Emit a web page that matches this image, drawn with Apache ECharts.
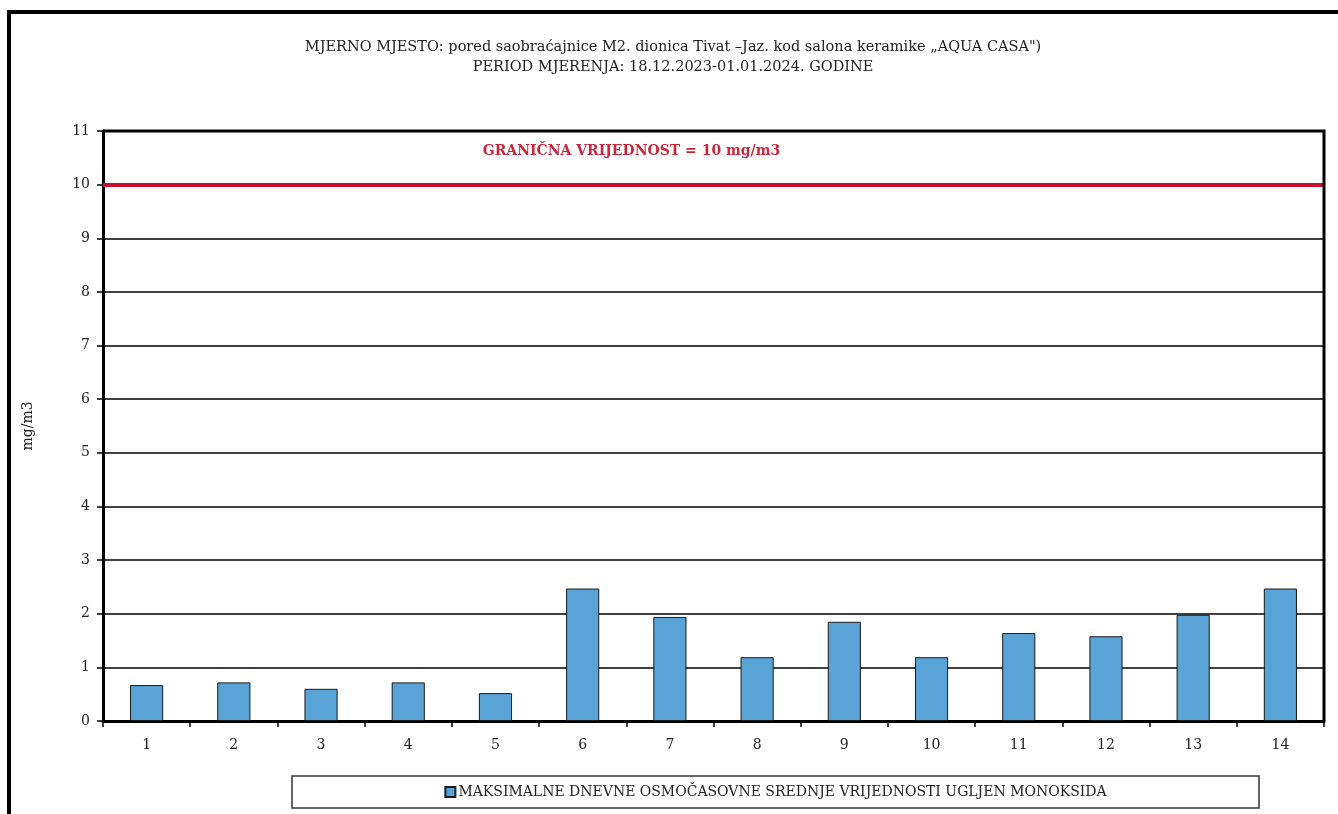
<!DOCTYPE html>
<html>
<head>
<meta charset="utf-8">
<script src="https://cdn.jsdelivr.net/npm/echarts@6/dist/echarts.min.js"></script>
<style>
  html, body { margin: 0; padding: 0; background: #ffffff; }
  #chart { width: 1338px; height: 814px; }
</style>
</head>
<body>
<div id="chart"></div>
<script>
// Days of the measurement period
const categories = ['1','2','3','4','5','6','7','8','9','10','11','12','13','14'];
// Maximum daily eight-hour mean CO concentrations, mg/m3
const coValues = [0.67, 0.72, 0.60, 0.72, 0.52, 2.47, 1.94, 1.19, 1.85, 1.19, 1.64, 1.58, 1.98, 2.47];
// Limit value, mg/m3
const limitValue = 10;
const yTicks = { min: 0, max: 11, interval: 1 };

const seriesName = 'MAKSIMALNE DNEVNE OSMOČASOVNE SREDNJE VRIJEDNOSTI UGLJEN MONOKSIDA';
const titleText = 'MJERNO MJESTO: pored saobraćajnice M2. dionica Tivat –Jaz. kod salona keramike „AQUA CASA")';
const subText = 'PERIOD MJERENJA: 18.12.2023-01.01.2024. GODINE';
const limitLabel = 'GRANIČNA VRIJEDNOST = 10 mg/m3';

const serif = '"DejaVu Serif", "Liberation Serif", serif';
const chart = echarts.init(document.getElementById('chart'), null, { renderer: 'canvas' });

// legend box spans this horizontal range; the legend content is centred inside it
const legendBox = { x: 292, y: 776, w: 967, h: 34 };
const legendFont = 14;
const legendTextW = echarts.format.getTextRect
  ? echarts.format.getTextRect(seriesName, legendFont + 'px ' + serif).width
  : 690;
const legendContentW = legendTextW + 10 + 4;
const legendPadX = Math.max(0, (legendBox.w - legendContentW) / 2);

chart.setOption({
  animation: false,
  backgroundColor: '#ffffff',
  title: {
    text: titleText,
    subtext: subText,
    left: 668,
    textAlign: 'center',
    top: 35,
    itemGap: 5,
    textStyle: { fontFamily: serif, fontSize: 14.5, fontWeight: 'normal', color: '#222' },
    subtextStyle: { fontFamily: serif, fontSize: 14.5, color: '#222' }
  },
  legend: {
    data: [seriesName],
    left: legendBox.x,
    top: legendBox.y,
    padding: [9, legendPadX, 9, legendPadX],
    borderColor: '#333',
    borderWidth: 1.5,
    itemWidth: 10,
    itemHeight: 10,
    itemGap: 4,
    icon: 'rect',
    textStyle: { fontFamily: serif, fontSize: legendFont, color: '#222', padding: [0, 0, 0, -2] }
  },
  grid: { left: 103, right: 14, top: 131, bottom: 93, containLabel: false },
  xAxis: {
    type: 'category',
    data: categories,
    boundaryGap: true,
    axisLine: { show: true, lineStyle: { color: '#000', width: 3 } },
    axisTick: { show: true, length: 6, inside: false, lineStyle: { color: '#000', width: 1.5 } },
    axisLabel: { fontFamily: serif, fontSize: 14, color: '#222', margin: 17 },
    splitLine: { show: false }
  },
  yAxis: {
    type: 'value',
    min: yTicks.min,
    max: yTicks.max,
    interval: yTicks.interval,
    name: 'mg/m3',
    nameLocation: 'middle',
    nameRotate: 90,
    nameGap: 68,
    nameTextStyle: { fontFamily: serif, fontSize: 14, color: '#222' },
    axisLine: { show: true, lineStyle: { color: '#000', width: 3 } },
    axisTick: { show: true, length: 6, lineStyle: { color: '#000', width: 1.5 } },
    axisLabel: { fontFamily: serif, fontSize: 14, color: '#222', margin: 13 },
    splitLine: { show: true, lineStyle: { color: '#000', width: 1.5 } }
  },
  series: [{
    name: seriesName,
    type: 'bar',
    data: coValues,
    barWidth: '38%',
    itemStyle: { color: '#5aa3d6', borderColor: '#1a1a1a', borderWidth: 1 },
    markLine: {
      symbol: 'none',
      silent: true,
      lineStyle: { color: '#c8102e', width: 4, type: 'solid' },
      label: {
        show: true,
        formatter: limitLabel,
        position: 'insideMiddleTop',
        distance: 26,
        offset: [-82, 0],
        fontFamily: serif,
        fontSize: 14,
        fontWeight: 'bold',
        color: '#c8283c'
      },
      data: [{ yAxis: limitValue }]
    }
  }]
});

// outer frame and the top/right borders of the plot area
const rect = chart.getModel().getComponent('grid', 0).coordinateSystem.getRect();
chart.setOption({
  graphic: [{
    type: 'rect',
    shape: { x: 9, y: 12, width: 1345, height: 830 },
    style: { fill: 'none', stroke: '#000000', lineWidth: 4 },
    silent: true,
    z: -10
  }, {
    type: 'polyline',
    shape: { points: [[rect.x, rect.y], [rect.x + rect.width, rect.y], [rect.x + rect.width, rect.y + rect.height]] },
    style: { fill: 'none', stroke: '#000', lineWidth: 3 },
    silent: true,
    z: 10
  }]
});
</script>
</body>
</html>
